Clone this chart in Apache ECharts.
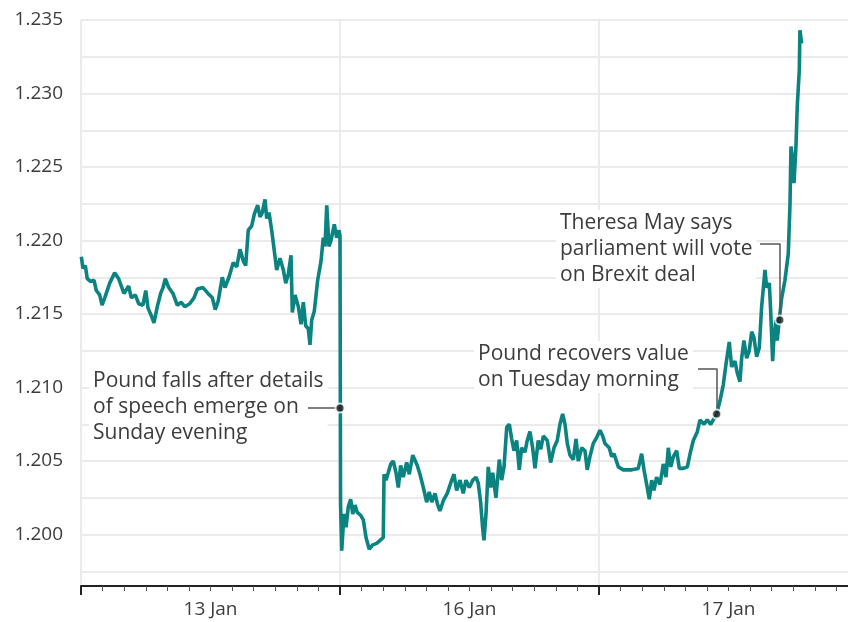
<!DOCTYPE html>
<html>
<head>
<meta charset="utf-8">
<script src="https://cdn.jsdelivr.net/npm/echarts@6/dist/echarts.min.js"></script>
<style>
  html, body { margin: 0; padding: 0; background: #fff; }
  #chart { width: 848px; height: 622px; }
</style>
</head>
<body>
<div id="chart"></div>
<script>
// hours since the start of the first trading day shown (13 Jan)
const hours = [
  0.03, 0.19, 0.40, 0.58, 0.90, 1.20, 1.42, 1.73, 1.95, 2.20, 2.66, 3.12, 3.49, 3.98, 4.42, 4.66,
  5.03, 5.35, 5.74, 6.00, 6.21, 6.51, 6.76, 7.07, 7.38, 7.60, 7.81, 8.13, 8.52, 8.92, 9.29, 9.61,
  10.07, 10.47, 10.78, 11.30, 11.77, 12.17, 12.44, 12.72, 13.09, 13.34, 13.71, 14.11, 14.43, 14.73,
  15.04, 15.26, 15.50, 15.82, 16.06, 16.37, 16.59, 16.80, 17.05, 17.21, 17.42, 17.67, 17.98, 18.13,
  18.44, 18.75, 18.97, 19.21, 19.46, 19.58, 19.83, 20.14, 20.39, 20.60, 20.82, 21.06, 21.22, 21.38,
  21.62, 21.93, 22.24, 22.45, 22.61, 22.77, 22.98, 23.17, 23.47, 23.69, 23.91, 24.00, 24.05, 24.16,
  24.37, 24.56, 24.77, 24.99, 25.18, 25.39, 25.60, 25.92, 26.16, 26.41, 26.71, 27.03, 27.40, 27.71,
  28.01, 28.08, 28.26, 28.47, 28.70, 28.94, 29.19, 29.40, 29.62, 29.86, 30.18, 30.42, 30.74, 30.98,
  31.16, 31.41, 31.72, 32.03, 32.27, 32.50, 32.80, 33.02, 33.26, 33.57, 33.94, 34.35, 34.56, 34.81,
  35.12, 35.42, 35.67, 35.98, 36.30, 36.60, 36.81, 37.03, 37.21, 37.34, 37.53, 37.74, 37.96, 38.15,
  38.45, 38.76, 38.98, 39.20, 39.45, 39.69, 39.91, 40.12, 40.37, 40.61, 40.83, 41.14, 41.35, 41.60,
  41.85, 42.07, 42.37, 42.60, 42.84, 43.21, 43.52, 43.83, 44.13, 44.38, 44.63, 44.85, 45.06, 45.31,
  45.62, 45.87, 46.08, 46.40, 46.70, 46.91, 47.16, 47.47, 47.78, 48.09, 48.34, 48.55, 48.95, 49.17,
  49.39, 49.79, 50.25, 51.03, 51.64, 51.95, 52.17, 52.42, 52.66, 52.88, 53.09, 53.34, 53.65, 53.96,
  54.21, 54.42, 54.65, 54.89, 55.20, 55.44, 55.82, 56.19, 56.44, 56.74, 57.11, 57.36, 57.73, 58.03,
  58.35, 58.90, 59.21, 59.52, 59.77, 60.07, 60.29, 60.60, 60.81, 61.06, 61.22, 61.43, 61.68, 61.92,
  62.15, 62.36, 62.61, 62.85, 63.07, 63.38, 63.54, 63.78, 63.91, 64.09, 64.21, 64.40, 64.52, 64.70,
  64.93, 65.23, 65.54, 65.70, 65.79, 65.95, 66.07, 66.25, 66.37, 66.56, 66.62, 66.78
];

// dollars per pound
const prices = [
  1.2189, 1.2181, 1.2183, 1.2174, 1.2172, 1.2173, 1.2166, 1.2163, 1.2156, 1.2161, 1.2171, 1.2178, 1.2174, 1.2164, 1.2169, 1.2161,
  1.2163, 1.2157, 1.2156, 1.2166, 1.2154, 1.2149, 1.2144, 1.2155, 1.2164, 1.2168, 1.2174, 1.2168, 1.2164, 1.2156, 1.2158, 1.2155,
  1.2157, 1.2161, 1.2167, 1.2168, 1.2164, 1.2161, 1.2153, 1.2159, 1.2175, 1.2168, 1.2175, 1.2185, 1.2182, 1.2194,
  1.2186, 1.2183, 1.2207, 1.2210, 1.2218, 1.2224, 1.2216, 1.2219, 1.2228, 1.2215, 1.2219, 1.2207, 1.2189, 1.2180,
  1.2188, 1.2180, 1.2171, 1.2177, 1.2190, 1.2151, 1.2163, 1.2155, 1.2143, 1.2158, 1.2142, 1.2140, 1.2129, 1.2146,
  1.2152, 1.2173, 1.2186, 1.2202, 1.2196, 1.2224, 1.2196, 1.2200, 1.2211, 1.2202, 1.2207, 1.2203, 1.2021, 1.1989,
  1.2014, 1.2005, 1.2019, 1.2024, 1.2014, 1.2020, 1.2015, 1.2013, 1.2010, 1.1998, 1.1990, 1.1993, 1.1994, 1.1996,
  1.1998, 1.2041, 1.2037, 1.2042, 1.2048, 1.2050, 1.2042, 1.2032, 1.2047, 1.2039, 1.2049, 1.2041, 1.2054, 1.2050,
  1.2047, 1.2041, 1.2032, 1.2022, 1.2029, 1.2022, 1.2028, 1.2021, 1.2016, 1.2023, 1.2028, 1.2037, 1.2041, 1.2030,
  1.2037, 1.2028, 1.2037, 1.2032, 1.2037, 1.2039, 1.2035, 1.2022, 1.2005, 1.1996, 1.2014, 1.2046, 1.2032, 1.2042,
  1.2025, 1.2051, 1.2037, 1.2046, 1.2073, 1.2075, 1.2065, 1.2057, 1.2064, 1.2044, 1.2059, 1.2056, 1.2064, 1.2070,
  1.2059, 1.2045, 1.2064, 1.2058, 1.2067, 1.2064, 1.2049, 1.2059, 1.2064, 1.2075, 1.2082, 1.2075, 1.2062, 1.2054,
  1.2051, 1.2065, 1.2050, 1.2059, 1.2057, 1.2044, 1.2053, 1.2062, 1.2066, 1.2071, 1.2067, 1.2062, 1.2059, 1.2053,
  1.2055, 1.2046, 1.2044, 1.2044, 1.2045, 1.2055, 1.2044, 1.2034, 1.2024, 1.2037, 1.2030, 1.2039, 1.2034, 1.2048,
  1.2039, 1.2059, 1.2046, 1.2053, 1.2057, 1.2045, 1.2045, 1.2046, 1.2055, 1.2064, 1.2070, 1.2078, 1.2075, 1.2078,
  1.2075, 1.2082, 1.2091, 1.2102, 1.2116, 1.2131, 1.2114, 1.2118, 1.2110, 1.2104, 1.2120, 1.2132, 1.2120, 1.2125,
  1.2138, 1.2134, 1.2121, 1.2127, 1.2155, 1.2180, 1.2168, 1.2171, 1.2152, 1.2118, 1.2134, 1.2146, 1.2132, 1.2146,
  1.2161, 1.2173, 1.2191, 1.2225, 1.2264, 1.2254, 1.2239, 1.2264, 1.2291, 1.2316, 1.2343, 1.2334
];

const dayLabels = ['13 Jan', '16 Jan', '17 Jan'];
const dayLabelHours = [12, 36, 60];

// annotations: marked point, leader line start, leader corner
const noteTexts = [
  'Pound falls after details\nof speech emerge on\nSunday evening',
  'Pound recovers value\non Tuesday morning',
  'Theresa May says\nparliament will vote\non Brexit deal'
];
const noteHours = [24.0, 58.9, 64.75];
const notePrices = [1.2086, 1.2082, 1.2146];
const leaderStartHours = [21.03, 57.17, 62.92];
const leaderPrices = [1.2086, 1.2113, 1.2198];

const textColor = '#3c3c3c';
const fontFamily = '"Open Sans", "Liberation Sans", sans-serif';

const lineData = hours.map((h, i) => [h, prices[i]]);
const dotData = noteHours.map((h, i) => [h, notePrices[i]]);

const leaderLines = [];
noteHours.forEach((h, i) => {
  leaderLines.push([
    { coord: [leaderStartHours[i], leaderPrices[i]] },
    { coord: [h, leaderPrices[i]] }
  ]);
  if (leaderPrices[i] !== notePrices[i]) {
    leaderLines.push([
      { coord: [h, leaderPrices[i]] },
      { coord: [h, notePrices[i]] }
    ]);
  }
});

const isLabelled = v => {
  const m = v * 1000;
  return Math.abs(m - Math.round(m)) < 1e-6 && Math.round(m) % 5 === 0;
};

const noteStyle = text => ({
  text,
  font: '21px ' + fontFamily,
  fill: textColor,
  lineHeight: 26,
  backgroundColor: '#fff',
  padding: [0, 4, 0, 4]
});

const chart = echarts.init(document.getElementById('chart'), null, { renderer: 'canvas' });
chart.setOption({
  animation: false,
  textStyle: { fontFamily },
  // one trading day is 259px wide; the plot runs past the right edge
  grid: { left: 81, right: -10, top: 20, bottom: 36, outerBoundsMode: 'none' },
  xAxis: [
    {
      type: 'value',
      min: 0,
      max: 72,
      interval: 24,
      axisLine: { show: true, lineStyle: { color: '#222', width: 2 } },
      axisTick: { show: true, length: 9, lineStyle: { color: '#222', width: 2 } },
      minorTick: { show: true, splitNumber: 12, length: 5, lineStyle: { color: '#555', width: 1 } },
      axisLabel: { show: false },
      splitLine: { show: true, lineStyle: { color: '#ebebeb', width: 2 } }
    },
    {
      type: 'value',
      position: 'bottom',
      min: 0,
      max: 72,
      interval: 12,
      axisLine: { show: false },
      axisTick: { show: false },
      splitLine: { show: false },
      axisLabel: {
        show: true,
        margin: 14,
        fontSize: 19,
        color: textColor,
        fontFamily,
        formatter: v => {
          const k = dayLabelHours.indexOf(v);
          return k >= 0 ? dayLabels[k] : '';
        }
      }
    }
  ],
  yAxis: {
    type: 'value',
    min: 1.1965,
    max: 1.235,
    splitNumber: 16,
    minInterval: 0.0025,
    maxInterval: 0.0025,
    axisLine: { show: false },
    axisTick: { show: false },
    axisLabel: {
      show: true,
      margin: 18,
      fontSize: 19,
      color: textColor,
      fontFamily,
      formatter: v => (isLabelled(v) ? v.toFixed(3) : '')
    },
    splitLine: { show: true, lineStyle: { color: '#ebebeb', width: 2 } }
  },
  series: [
    {
      type: 'line',
      xAxisIndex: 0,
      data: lineData,
      showSymbol: false,
      lineStyle: { color: '#0b8381', width: 3.6 },
      z: 2,
      markLine: {
        silent: true,
        symbol: 'none',
        label: { show: false },
        lineStyle: { color: '#555', width: 1.5, type: 'solid' },
        data: leaderLines
      }
    },
    {
      type: 'scatter',
      xAxisIndex: 0,
      data: dotData,
      symbolSize: 9,
      itemStyle: { color: '#222', borderColor: '#fff', borderWidth: 2 },
      z: 5
    }
  ],
  // text boxes sit above the gridlines but under the leader lines
  graphic: [
    { type: 'text', z: 1, left: 89, top: 368, style: noteStyle(noteTexts[0]) },
    { type: 'text', z: 1, left: 474, top: 341, style: noteStyle(noteTexts[1]) },
    { type: 'text', z: 1, left: 556, top: 210, style: noteStyle(noteTexts[2]) }
  ]
});
</script>
</body>
</html>
